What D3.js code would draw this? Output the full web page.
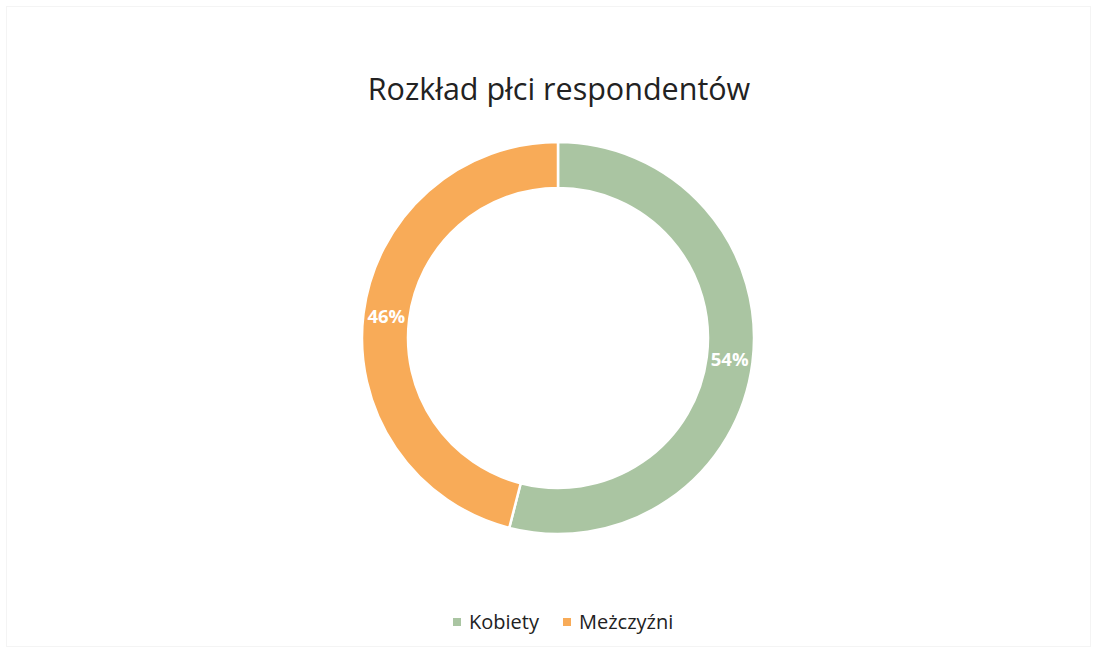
<!DOCTYPE html>
<html><head><meta charset="utf-8">
<script src="https://cdn.jsdelivr.net/npm/d3@7"></script>
<style>body{margin:0;background:#fff;}svg{display:block;}</style>
</head><body>
<svg id="c" width="1097" height="653"></svg>
<script>
const categories = ["Kobiety", "Meżczyźni"];
const values = [54, 46];
const colors = ["#aac5a2", "#f8ab58"];
const title = "Rozkład płci respondentów";

const svg = d3.select("#c");
const W = 1097, H = 653;
svg.append("rect").attr("width", W).attr("height", H).attr("fill", "#fff");
svg.append("rect").attr("x", 6.5).attr("y", 6.5).attr("width", W - 13).attr("height", H - 13)
  .attr("fill", "none").attr("stroke", "#f4f4f4");

svg.append("text").attr("x", 559).attr("y", 100).attr("text-anchor", "middle")
  .attr("font-family", "Open Sans, Noto Sans, sans-serif").attr("font-size", 30.5)
  .attr("fill", "#222").text(title);

const cx = 558, cy = 338, rO = 196, rI = 150;
const pie = d3.pie().sort(null).value(d => d)(values);
const arc = d3.arc().innerRadius(rI).outerRadius(rO);
const g = svg.append("g").attr("transform", `translate(${cx},${cy})`);
g.selectAll("path").data(pie).join("path")
  .attr("d", arc).attr("fill", (d, i) => colors[i])
  .attr("stroke", "#fff").attr("stroke-width", 2.5);
const lab = d3.arc().innerRadius((rI + rO) / 2).outerRadius((rI + rO) / 2);
g.selectAll("text").data(pie).join("text")
  .attr("transform", d => `translate(${lab.centroid(d)})`)
  .attr("text-anchor", "middle").attr("dy", "0.35em")
  .attr("font-family", "Open Sans, Noto Sans, sans-serif").attr("font-weight", "bold")
  .attr("font-size", 18.5).attr("fill", "#fff")
  .text(d => d.data + "%");

const leg = svg.append("g").attr("font-family", "Open Sans, Noto Sans, sans-serif").attr("font-size", 20).attr("fill", "#222");
const legX = [453, 563];
categories.forEach((c, i) => {
  leg.append("rect").attr("x", legX[i]).attr("y", 618).attr("width", 8).attr("height", 8).attr("fill", colors[i]);
  leg.append("text").attr("x", legX[i] + 16).attr("y", 629).text(c);
});
</script>
</body></html>
